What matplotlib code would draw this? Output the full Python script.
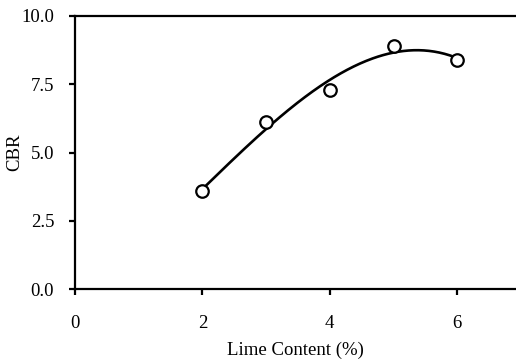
import numpy as np
import matplotlib.pyplot as plt

plt.rcParams['font.family'] = ['Liberation Serif', 'DejaVu Serif']

lime = [2, 3, 4, 5, 6]
cbr = [3.6, 6.1, 7.3, 8.9, 8.4]
xticks = [0, 2, 4, 6]
yticks = [0.0, 2.5, 5.0, 7.5, 10.0]

fig = plt.figure(figsize=(5.16, 3.6), dpi=100)
ax = fig.add_axes([75 / 516, (360 - 289) / 360, 7 * 63.7 / 516, 273 / 360])

# excel style polynomial trendline
coef = np.polyfit(lime, cbr, 3)
xs = np.linspace(min(lime), max(lime), 200)
ax.plot(xs, np.polyval(coef, xs), color='black', lw=1.9)
ax.plot(lime, cbr, 'o', ms=9, mfc='white', mec='black', mew=1.6)

ax.set_xlim(0, 7)
ax.set_ylim(0, 10)
ax.set_xticks(xticks)
ax.set_yticks(yticks)
ax.set_yticklabels(['%.1f' % v for v in yticks])
ax.tick_params(direction='out', length=4, width=1.6, labelsize=13.5)
ax.tick_params(axis='y', pad=11)
ax.tick_params(axis='x', pad=15)
for s in ['left', 'top', 'bottom']:
    ax.spines[s].set_linewidth(1.6)
ax.spines['right'].set_visible(False)

ax.set_xlabel('Lime Content (%)', fontsize=13.5, va='center')
ax.set_ylabel('CBR', fontsize=13.5, va='center')
ax.xaxis.set_label_coords(0.5 - (75 + 223 - 295) / 445.9, -(350 - 289) / 273)
ax.yaxis.set_label_coords(-(75 - 15) / 445.9, 0.5)

fig.savefig('out.png', dpi=100)
